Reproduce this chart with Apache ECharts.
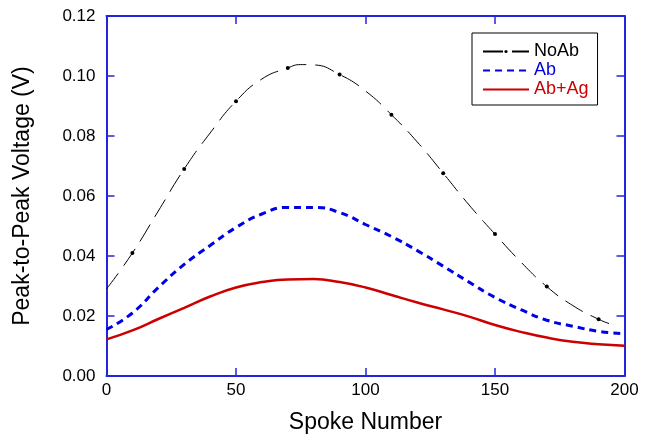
<!DOCTYPE html>
<html>
<head>
<meta charset="utf-8">
<script src="https://cdn.jsdelivr.net/npm/echarts@6/dist/echarts.min.js"></script>
<style>
  html, body { margin: 0; padding: 0; background: #fff; }
  #chart { width: 653px; height: 439px; }
</style>
</head>
<body>
<div id="chart"></div>
<script>
// spoke positions and peak-to-peak voltages (V)
const noAbX = [0, 10, 20, 30, 40, 50, 60, 70, 75, 80, 90, 100, 110, 120, 130, 140, 150, 160, 170, 180, 190, 195]
const noAbY = [0.029, 0.041, 0.055, 0.069, 0.081, 0.0916, 0.099, 0.1027, 0.1038, 0.1037, 0.1005, 0.095, 0.0871, 0.078, 0.0676, 0.057, 0.0473, 0.038, 0.0298, 0.0235, 0.0189, 0.0172]

const spokeX = [0, 10, 20, 30, 40, 50, 60, 70, 80, 90, 100, 110, 120, 130, 140, 150, 160, 170, 180, 190, 200]
const abY = [0.0155, 0.021, 0.0295, 0.0372, 0.0435, 0.0495, 0.054, 0.0562, 0.0562, 0.0545, 0.0505, 0.0465, 0.0418, 0.0366, 0.0313, 0.0262, 0.0221, 0.0186, 0.0166, 0.0149, 0.0141]
const abAgY = [0.0122, 0.0152, 0.019, 0.0227, 0.0265, 0.0295, 0.0313, 0.0322, 0.0323, 0.0313, 0.0295, 0.027, 0.0245, 0.0222, 0.0198, 0.017, 0.0147, 0.0128, 0.0114, 0.0106, 0.0101]

// NoAb has a dot marker every 20 spokes starting at 10
const markerX = [10, 30, 50, 70, 90, 110, 130, 150, 170, 190]

const xTicks = { min: 0, max: 200, interval: 50 }
const yTicks = { min: 0, max: 0.12, interval: 0.02 }

const FONT = 'Liberation Sans, Arial, sans-serif'
const FRAME = '#2424e0'

const chart = echarts.init(document.getElementById('chart'), null, { renderer: 'canvas' })

const frameAxis = {
  axisLine: { show: true, onZero: false, lineStyle: { color: FRAME, width: 2 } },
  axisTick: { show: true, inside: true, length: 8, lineStyle: { color: FRAME, width: 1.5 } },
  splitLine: { show: false },
}

const noAbData = noAbX.map((x, i) => {
  const item = { value: [x, noAbY[i]] }
  if (!markerX.includes(x)) item.symbol = 'none'
  return item
})

const option = {
  animation: false,
  backgroundColor: '#fff',
  grid: { left: 106.5, right: 28.5, top: 16, bottom: 60.5 },
  legend: {
    orient: 'vertical',
    left: 472,
    top: 33,
    padding: [9, 9, 6, 10],
    borderColor: '#000',
    borderWidth: 1,
    itemWidth: 46,
    itemHeight: 4,
    itemGap: 0,
    textStyle: { fontFamily: FONT, fontSize: 18, lineHeight: 19 },
    data: [
      { name: 'NoAb', textStyle: { color: '#000' } },
      { name: 'Ab', textStyle: { color: '#0000e6' }, itemStyle: { opacity: 0 } },
      { name: 'Ab+Ag', textStyle: { color: '#cc0000' }, itemStyle: { opacity: 0 } },
    ],
  },
  xAxis: [
    {
      type: 'value',
      position: 'bottom',
      ...xTicks,
      ...frameAxis,
      axisLabel: { color: '#000', fontFamily: FONT, fontSize: 17, margin: 6 },
      name: 'Spoke Number',
      nameLocation: 'middle',
      nameGap: 35,
      nameTextStyle: { color: '#000', fontFamily: FONT, fontSize: 23 },
    },
    {
      type: 'value',
      position: 'top',
      ...xTicks,
      ...frameAxis,
      axisLabel: { show: false },
    },
  ],
  yAxis: [
    {
      type: 'value',
      position: 'left',
      ...yTicks,
      ...frameAxis,
      axisLabel: {
        color: '#000',
        fontFamily: FONT,
        fontSize: 17,
        margin: 11,
        formatter: (v) => v.toFixed(2),
      },
      name: 'Peak-to-Peak Voltage (V)',
      nameLocation: 'middle',
      nameGap: 72,
      nameTextStyle: { color: '#000', fontFamily: FONT, fontSize: 23 },
    },
    {
      type: 'value',
      position: 'right',
      ...yTicks,
      ...frameAxis,
      axisLabel: { show: false },
    },
  ],
  series: [
    {
      name: 'NoAb',
      type: 'line',
      smooth: true,
      showAllSymbol: true,
      symbol: 'circle',
      symbolSize: 4,
      itemStyle: { color: '#000' },
      lineStyle: { color: '#000', width: 1, type: [20, 9] },
      data: noAbData,
      z: 3,
    },
    {
      name: 'Ab',
      type: 'line',
      smooth: true,
      showSymbol: false,
      symbol: 'none',
      itemStyle: { color: '#0000e6' },
      lineStyle: { color: '#0000e6', width: 3, type: [7, 5] },
      data: spokeX.map((x, i) => [x, abY[i]]),
    },
    {
      name: 'Ab+Ag',
      type: 'line',
      smooth: true,
      showSymbol: false,
      symbol: 'none',
      itemStyle: { color: '#cc0000' },
      lineStyle: { color: '#cc0000', width: 2.5 },
      data: spokeX.map((x, i) => [x, abAgY[i]]),
    },
  ],
}

chart.setOption(option)
</script>
</body>
</html>
